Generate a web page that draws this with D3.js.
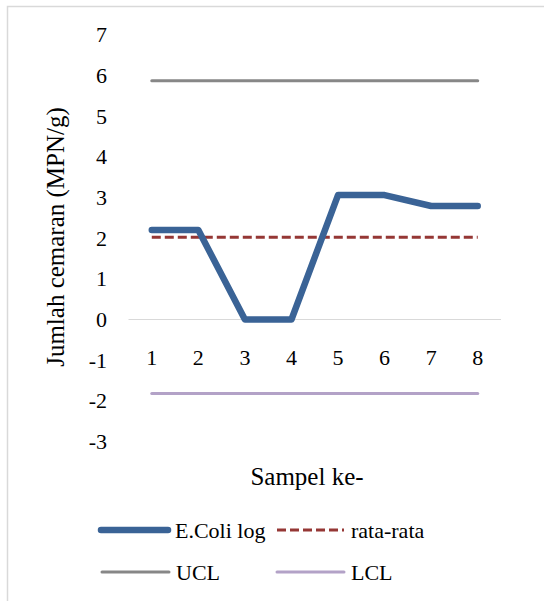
<!DOCTYPE html>
<html>
<head>
<meta charset="utf-8">
<script src="https://cdn.jsdelivr.net/npm/d3@7.9.0/dist/d3.min.js"></script>
<style>
  body { margin: 0; background: #fff; }
  svg { display: block; font-family: "Liberation Serif", "Times New Roman", serif; }
</style>
</head>
<body>
<svg width="544" height="601"></svg>
<script>
// data
const samples = ['1', '2', '3', '4', '5', '6', '7', '8'];
const ecoliLog = [2.2, 2.2, 0, 0, 3.06, 3.06, 2.79, 2.79];
const mean = [2.02, 2.02, 2.02, 2.02, 2.02, 2.02, 2.02, 2.02];
const ucl = [5.87, 5.87, 5.87, 5.87, 5.87, 5.87, 5.87, 5.87];
const lcl = [-1.82, -1.82, -1.82, -1.82, -1.82, -1.82, -1.82, -1.82];
const yTicks = [-3, -2, -1, 0, 1, 2, 3, 4, 5, 6, 7];

const svg = d3.select('svg');

// outer chart border
svg.append('rect')
  .attr('x', 7.5).attr('y', 6.5)
  .attr('width', 600).attr('height', 700)
  .attr('fill', 'none')
  .attr('stroke', '#d9d9d9')
  .attr('stroke-width', 1.5);

let x = d3.scalePoint().domain(samples).range([128.5, 501]).padding(0.5);
let y = d3.scaleLinear().domain([-3, 7]).range([441.5, 34.8]);

// zero line
svg.append('line')
  .attr('x1', x.range()[0]).attr('x2', x.range()[1])
  .attr('y1', y(0)).attr('y2', y(0))
  .attr('stroke', '#d9d9d9').attr('stroke-width', 1);

// y tick labels
svg.append('g')
  .selectAll('text')
  .data(yTicks)
  .join('text')
  .attr('x', 107)
  .attr('y', d => y(d))
  .attr('dy', '0.34em')
  .attr('text-anchor', 'end')
  .attr('font-size', 22)
  .text(d => d);

// x tick labels
svg.append('g')
  .selectAll('text')
  .data(samples)
  .join('text')
  .attr('x', d => x(d))
  .attr('y', y(0) + 46)
  .attr('text-anchor', 'middle')
  .attr('font-size', 22)
  .text(d => d);

// axis titles
svg.append('text')
  .attr('transform', 'translate(64,237) rotate(-90)')
  .attr('text-anchor', 'middle')
  .attr('font-size', 25)
  .text('Jumlah cemaran (MPN/g)');

svg.append('text')
  .attr('x', 307).attr('y', 485)
  .attr('text-anchor', 'middle')
  .attr('font-size', 25)
  .text('Sampel ke-');

const series = [
  { name: 'E.Coli log', values: ecoliLog, color: '#3a6396', width: 6.5, dash: null },
  { name: 'rata-rata', values: mean, color: '#953735', width: 3, dash: '9,4' },
  { name: 'UCL', values: ucl, color: '#878787', width: 3, dash: null },
  { name: 'LCL', values: lcl, color: '#b3a2c7', width: 3, dash: null }
];

let line = d3.line()
  .x((d, i) => x(samples[i]))
  .y(d => y(d));

// draw order: limits first, then mean, then data on top
[series[2], series[3], series[1], series[0]].forEach(s => {
  svg.append('path')
    .attr('d', line(s.values))
    .attr('fill', 'none')
    .attr('stroke', s.color)
    .attr('stroke-width', s.width)
    .attr('stroke-linejoin', 'round')
    .attr('stroke-linecap', s.dash ? 'butt' : 'round')
    .attr('stroke-dasharray', s.dash);
});

// legend
let legendPos = [[101, 530], [277, 530], [102, 572], [277, 572]];
let legend = svg.append('g')
  .selectAll('g')
  .data(series)
  .join('g')
  .attr('transform', (d, i) => `translate(${legendPos[i][0]},${legendPos[i][1]})`);

legend.append('line')
  .attr('x1', 0).attr('x2', 67)
  .attr('stroke', d => d.color)
  .attr('stroke-width', d => d.width)
  .attr('stroke-linecap', d => d.dash ? 'butt' : 'round')
  .attr('stroke-dasharray', d => d.dash);

legend.append('text')
  .attr('x', 74)
  .attr('y', 7.5)
  .attr('font-size', 22)
  .text(d => d.name);
</script>
</body>
</html>
